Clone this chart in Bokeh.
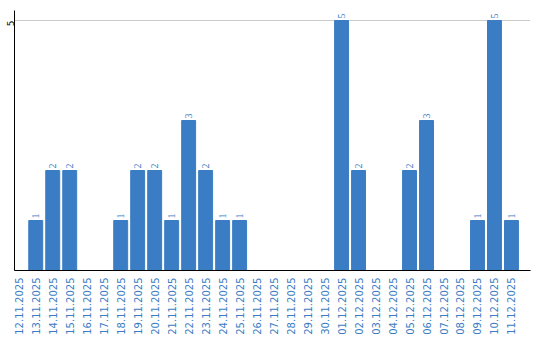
from math import pi
from bokeh.plotting import figure
from bokeh.models import Range1d, FixedTicker, ColumnDataSource, LabelSet
from bokeh.embed import file_html
from bokeh.resources import INLINE

dates = ["12.11.2025", "13.11.2025", "14.11.2025", "15.11.2025", "16.11.2025",
         "17.11.2025", "18.11.2025", "19.11.2025", "20.11.2025", "21.11.2025",
         "22.11.2025", "23.11.2025", "24.11.2025", "25.11.2025", "26.11.2025",
         "27.11.2025", "28.11.2025", "29.11.2025", "30.11.2025", "01.12.2025",
         "02.12.2025", "03.12.2025", "04.12.2025", "05.12.2025", "06.12.2025",
         "07.12.2025", "08.12.2025", "09.12.2025", "10.12.2025", "11.12.2025"]
values = [0, 1, 2, 2, 0, 0, 1, 2, 2, 1, 3, 2, 1, 1, 0,
          0, 0, 0, 0, 5, 2, 0, 0, 2, 3, 0, 0, 1, 5, 1]
y_ticks = [5]

BLUE = "#3b7dc4"
FONT = "DejaVu Sans"
X0, X1 = -0.25, 30.12

idx = list(range(len(dates)))
src = ColumnDataSource(dict(x=idx, top=values))
lab_x = [i for i, v in zip(idx, values) if v > 0]
lab_v = [v for v in values if v > 0]
lab_src = ColumnDataSource(dict(x=lab_x, y=lab_v, t=[str(v) for v in lab_v]))

p = figure(width=540, height=340, x_range=Range1d(X0, X1), y_range=Range1d(0, 5.2),
           output_backend="svg", toolbar_location=None,
           min_border_left=11, min_border_right=10, min_border_top=10, min_border_bottom=70)
p.outline_line_color = None
p.background_fill_color = "white"
p.border_fill_color = "white"

p.vbar(x="x", top="top", width=0.82, color=BLUE, source=src)

labels = LabelSet(x="x", y="y", text="t", source=lab_src, angle=pi / 2,
                  text_align="left", text_baseline="middle", x_offset=0, y_offset=2,
                  text_font_size="10px", text_color=BLUE, text_font=FONT)
p.add_layout(labels)

p.xgrid.visible = False
p.ygrid.ticker = FixedTicker(ticks=y_ticks)
p.ygrid.grid_line_color = "#cccccc"

xa = p.xaxis[0]
xa.ticker = FixedTicker(ticks=idx)
xa.major_label_overrides = {i: d for i, d in zip(idx, dates)}
xa.major_label_orientation = pi / 2
xa.major_label_text_color = BLUE
xa.major_label_text_font = FONT
xa.major_label_text_font_size = "10px"
xa.major_tick_line_color = None
xa.minor_tick_line_color = None
xa.major_tick_out = 0
xa.major_tick_in = 0
xa.minor_tick_out = 0
xa.minor_tick_in = 0
xa.major_label_standoff = 7
xa.axis_line_color = "black"

ya = p.yaxis[0]
ya.ticker = FixedTicker(ticks=y_ticks)
ya.major_label_orientation = pi / 2
ya.major_label_text_color = "black"
ya.major_label_text_font = FONT
ya.major_label_text_font_size = "9px"
ya.major_tick_line_color = None
ya.minor_tick_line_color = None
ya.major_tick_out = 0
ya.major_tick_in = 0
ya.minor_tick_out = 0
ya.minor_tick_in = 0
ya.major_label_standoff = 4
ya.axis_line_color = "black"

open("out.html", "w").write(file_html(p, INLINE))
